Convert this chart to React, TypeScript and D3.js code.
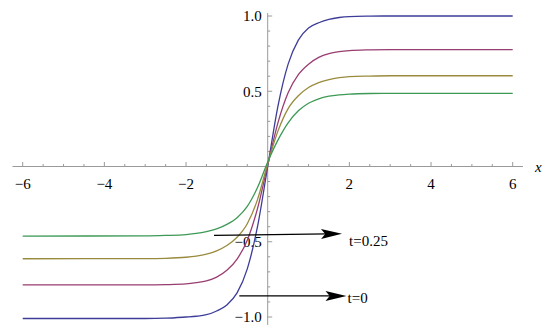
import React from 'react';
import * as d3 from 'd3';

// sample positions along x
const xs = [-6, -3, -2.5, -2, -1.75, -1.5, -1.25, -1, -0.75, -0.5, -0.25, 0, 0.25, 0.5, 0.75, 1, 1.25, 1.5, 1.75, 2, 2.5, 3, 6];

// series values
const blueVals = [-1.01, -1.01, -1.008, -1.0, -0.995, -0.985, -0.96, -0.92, -0.84, -0.68, -0.4, 0.0, 0.4, 0.68, 0.84, 0.92, 0.955, 0.978, 0.99, 0.996, 0.999, 1.0, 1.0];
const purpleVals = [-0.787, -0.787, -0.785, -0.78, -0.772, -0.76, -0.735, -0.69, -0.615, -0.49, -0.28, 0.01, 0.29, 0.49, 0.61, 0.68, 0.725, 0.75, 0.763, 0.77, 0.775, 0.777, 0.777];
const oliveVals = [-0.613, -0.612, -0.61, -0.603, -0.595, -0.582, -0.56, -0.525, -0.47, -0.38, -0.22, 0.02, 0.235, 0.385, 0.47, 0.525, 0.558, 0.578, 0.59, 0.597, 0.601, 0.603, 0.603];
const greenVals = [-0.462, -0.461, -0.458, -0.452, -0.445, -0.433, -0.415, -0.385, -0.34, -0.265, -0.14, 0.03, 0.175, 0.29, 0.37, 0.42, 0.45, 0.467, 0.476, 0.481, 0.485, 0.486, 0.486];

const seriesList = [blueVals, purpleVals, oliveVals, greenVals];
const seriesColors = ['#3d3d99', '#993d71', '#998b3d', '#3d9956'];

const xTicks = [-6, -4, -2, 2, 4, 6];
const xTickLabels = ['\u22126', '\u22124', '\u22122', '2', '4', '6'];
const yTicks = [-1, -0.5, 0.5, 1];
const yTickLabels = ['\u22121.0', '\u22120.5', '0.5', '1.0'];

const arrowStartX = [-1.315, -0.695];
const arrowStartY = [-0.457, -0.86];
const arrowEndX = [1.82, 1.93];
const arrowEndY = [-0.447, -0.86];
const arrowLabels = ['t=0.25', 't=0'];

const W = 550;
const H = 334;

export default function App() {
  const x = d3.scaleLinear().domain([-6, 6]).range([22.7, 512.7]);
  const y = d3.scaleLinear().domain([-1, 1]).range([317, 16]);
  const axisColor = '#9a9a9a';
  const txt: React.CSSProperties = { fontFamily: 'Liberation Serif, Tinos, DejaVu Serif', fontSize: '15px' };

  const xMinor = d3.range(-6, 6.01, 0.5).filter((v) => Math.abs(v) > 1e-9 && Math.abs(v % 2) > 1e-9);
  const yMinor = d3.range(-1, 1.001, 0.1).map((v) => Math.round(v * 10) / 10).filter((v) => Math.abs(v) > 1e-9 && Math.abs((v * 10) % 5) > 1e-9);

  const line = d3
    .line<number>()
    .x((_, i) => x(xs[i]))
    .y((d) => y(d))
    .curve(d3.curveMonotoneX);

  const x0 = x(0);
  const y0 = y(0);

  return (
    <svg width={W} height={H} style={{ position: 'absolute', left: 0, top: 0, background: '#fff' }}>
      {/* axes */}
      <line x1={x(-6.25)} x2={x(6.25)} y1={y0} y2={y0} stroke={axisColor} strokeWidth={1} />
      <line x1={x0} x2={x0} y1={y(1.02)} y2={y(-1.053)} stroke={axisColor} strokeWidth={1} />
      {xTicks.map((t) => (
        <line key={'xt' + t} x1={x(t)} x2={x(t)} y1={y0} y2={y0 - 4.5} stroke={axisColor} />
      ))}
      {xMinor.map((t) => (
        <line key={'xm' + t} x1={x(t)} x2={x(t)} y1={y0} y2={y0 - 2.5} stroke={axisColor} />
      ))}
      {yTicks.map((t) => (
        <line key={'yt' + t} x1={x0} x2={x0 + 4.5} y1={y(t)} y2={y(t)} stroke={axisColor} />
      ))}
      {yMinor.map((t) => (
        <line key={'ym' + t} x1={x0} x2={x0 + 2.5} y1={y(t)} y2={y(t)} stroke={axisColor} />
      ))}
      {xTicks.map((t, i) => (
        <text key={'xl' + t} x={x(t)} y={y0 + 22} textAnchor="middle" style={txt} fill="#000">
          {xTickLabels[i]}
        </text>
      ))}
      {yTicks.map((t, i) => (
        <text key={'yl' + t} x={x0 - 6} y={y(t) + 5.3} textAnchor="end" style={txt} fill="#000">
          {yTickLabels[i]}
        </text>
      ))}
      <text x={535} y={y0 + 5.5} style={{ ...txt, fontStyle: 'italic' }} fill="#000">
        x
      </text>
      {/* curves */}
      {seriesList.map((s, i) => (
        <path key={'s' + i} d={line(s) || ''} fill="none" stroke={seriesColors[i]} strokeWidth={1.3} />
      ))}
      {/* arrows */}
      {arrowLabels.map((lab, i) => {
        const sx = x(arrowStartX[i]);
        const sy = y(arrowStartY[i]);
        const ex = x(arrowEndX[i]);
        const ey = y(arrowEndY[i]);
        const a = Math.atan2(ey - sy, ex - sx);
        const ang = (a * 180) / Math.PI;
        const headLen = 21;
        return (
          <g key={'a' + i}>
            <line x1={sx} y1={sy} x2={ex - headLen * 0.7 * Math.cos(a)} y2={ey - headLen * 0.7 * Math.sin(a)} stroke="#000" strokeWidth={1.3} />
            <path d={`M0,0 L${-headLen},${-5} L${-headLen * 0.8},0 L${-headLen},5 Z`} transform={`translate(${ex},${ey}) rotate(${ang})`} fill="#000" />
            <text x={ex + (i === 0 ? 7 : 1)} y={ey + (i === 0 ? 12 : 7)} style={txt} fill="#000">
              {lab}
            </text>
          </g>
        );
      })}
    </svg>
  );
}
